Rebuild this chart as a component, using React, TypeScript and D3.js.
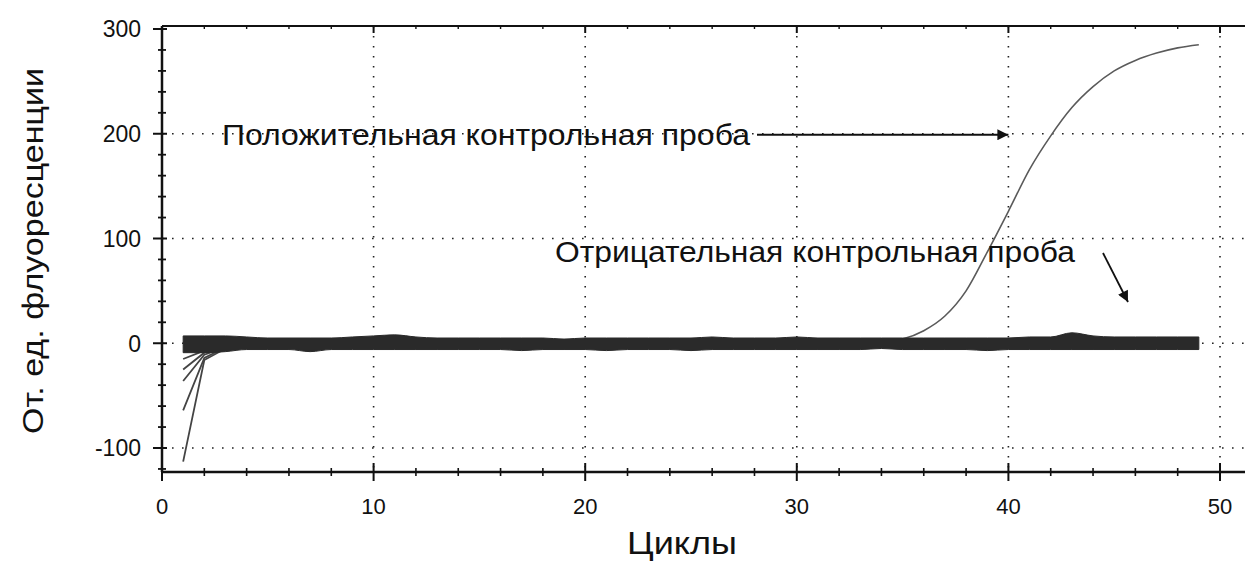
import React from "react";
import * as d3 from "d3";

const cycles = [1,2,3,4,5,6,7,8,9,10,11,12,13,14,15,16,17,18,19,20,21,22,23,24,25,26,27,28,29,30,31,32,33,34,35,36,37,38,39,40,41,42,43,44,45,46,47,48,49];

// positive control
const positive = [1,1,1,1,1,1,1,1,1,1,1,1,1,1,1,1,1,1,1,1,1,1,1,1,1,1,1,1,1,1,1,1,1,1,4,12,26,50,87,126,166,198,225,245,260,270,277,282,285];

// thick band formed by the many negative / baseline curves
const bandHigh = [7,7,7,6,5,5,5,5,6,7,8,6,5,5,5,5,5,5,4,5,5,5,5,5,5,6,5,5,5,6,5,5,5,5,5,5,5,5,5,5,6,6,10,7,6,6,6,6,6];
const bandLow = [-9,-9,-8,-6,-6,-6,-8,-6,-6,-6,-6,-6,-6,-6,-6,-6,-7,-6,-6,-6,-7,-6,-6,-6,-7,-6,-6,-6,-6,-6,-6,-6,-6,-5,-6,-6,-6,-6,-7,-6,-6,-6,-6,-6,-6,-6,-6,-6,-6];

// early curves starting below zero (cycles 1..5)
const earlyCycles = [1,2,3,4,5];
const early1 = [-113,-16,-5,-1,0];
const early2 = [-64,-14,-4,-1,0];
const early3 = [-36,-11,-4,-1,0];
const early4 = [-25,-9,-3,0,0];
const early5 = [-15,-7,-3,0,0];
const earlySeries = [early1, early2, early3, early4, early5];

const xMajor = [0,10,20,30,40,50];
const xMinor = [2,4,6,8,12,14,16,18,22,24,26,28,32,34,36,38,42,44,46,48];
const yMajor = [300,200,100,0,-100];
const yMinor = [280,260,240,220,180,160,140,120,80,60,40,20,-20,-40,-60,-80,-120];
const yGrid = [200,100,0,-100];
const xGrid = [10,20,30,40,50];

const xTitle = "Циклы";
const yTitle = "От. ед. флуоресценции";
const posLabel = "Положительная контрольная проба";
const negLabel = "Отрицательная контрольная проба";

const W = 1245, H = 562;
const FONT = "'Liberation Sans', Arial, sans-serif";

export default function App() {
  const x = d3.scaleLinear().domain([0, 50]).range([162, 1220]);
  const y = d3.scaleLinear().domain([-100, 300]).range([448, 29]);
  const topY = 26;
  const botY = 472;
  const leftX = x(0);

  const line = d3.line<number>().x((_, i) => x(cycles[i])).y(d => y(d)).curve(d3.curveMonotoneX);
  const earlyLine = d3.line<number>().x((_, i) => x(earlyCycles[i])).y(d => y(d)).curve(d3.curveLinear);
  const band = d3.area<number>()
    .x((_, i) => x(cycles[i]))
    .y0((_, i) => y(bandLow[i]))
    .y1((d) => y(d))
    .curve(d3.curveMonotoneX);

  const dot = { stroke: "#222", strokeWidth: 1.6, strokeDasharray: "1.6 8.4", fill: "none" };

  return (
    <svg width={W} height={H} style={{ position: "absolute", left: 0, top: 0, background: "#fff" }} fontFamily={FONT}>
      <defs>
        <marker id="ah" viewBox="0 0 10 10" refX="10" refY="5" markerWidth="15" markerHeight="11" markerUnits="userSpaceOnUse" orient="auto">
          <path d="M0,0 L10,5 L0,10 Z" fill="#111" />
        </marker>
      </defs>
      {/* grid */}
      {yGrid.map(v => (
        <line key={"gy" + v} x1={leftX} x2={W} y1={y(v)} y2={y(v)} style={dot} />
      ))}
      {xGrid.map(v => (
        <line key={"gx" + v} x1={x(v)} x2={x(v)} y1={topY} y2={botY} style={dot} />
      ))}

      {/* positive control */}
      <path d={line(positive) || ""} fill="none" stroke="#5a5a5a" strokeWidth={1.6} />

      {/* early curves */}
      {earlySeries.map((s, i) => (
        <path key={"e" + i} d={earlyLine(s) || ""} fill="none" stroke="#444" strokeWidth={1.8} />
      ))}

      {/* band */}
      <path d={band(bandHigh) || ""} fill="#2a2a2a" stroke="#2a2a2a" strokeWidth={1} />

      {/* axes */}
      <line x1={leftX} x2={W} y1={topY} y2={topY} stroke="#111" strokeWidth={2} />
      <line x1={leftX} x2={W} y1={botY} y2={botY} stroke="#111" strokeWidth={2.5} />
      <line x1={leftX} x2={leftX} y1={topY} y2={botY} stroke="#111" strokeWidth={2.5} />

      {yMajor.map(v => (
        <line key={"ym" + v} x1={leftX - 9} x2={leftX + 5} y1={y(v)} y2={y(v)} stroke="#111" strokeWidth={2} />
      ))}
      {yMinor.map(v => (
        <line key={"yn" + v} x1={leftX - 4} x2={leftX + 4} y1={y(v)} y2={y(v)} stroke="#111" strokeWidth={1.8} />
      ))}
      {xMajor.map(v => (
        <line key={"xm" + v} x1={x(v)} x2={x(v)} y1={botY - 9} y2={botY + 9} stroke="#111" strokeWidth={2} />
      ))}
      {xMinor.map(v => (
        <line key={"xn" + v} x1={x(v)} x2={x(v)} y1={botY - 4} y2={botY + 4} stroke="#111" strokeWidth={1.6} />
      ))}
      {xMajor.map(v => (
        <line key={"xt" + v} x1={x(v)} x2={x(v)} y1={topY} y2={topY + 7} stroke="#111" strokeWidth={2} />
      ))}
      {xMinor.map(v => (
        <line key={"xtn" + v} x1={x(v)} x2={x(v)} y1={topY} y2={topY + 3} stroke="#111" strokeWidth={1.4} />
      ))}

      {/* tick labels */}
      {yMajor.map(v => (
        <text key={"yl" + v} x={leftX - 21} y={y(v)} dy="0.36em" textAnchor="end" fontSize={23} fill="#111">{v}</text>
      ))}
      {xMajor.map(v => (
        <text key={"xl" + v} x={x(v)} y={514} textAnchor="middle" fontSize={22} fill="#111">{v}</text>
      ))}

      {/* titles */}
      <text x={682} y={554} textAnchor="middle" fontSize={32} textLength={110} lengthAdjust="spacingAndGlyphs" fill="#111">{xTitle}</text>
      <text transform={`translate(43,251) rotate(-90)`} textAnchor="middle" fontSize={30} textLength={366} lengthAdjust="spacingAndGlyphs" fill="#111">{yTitle}</text>

      {/* annotations */}
      <text x={222} y={145} fontSize={29} textLength={528} lengthAdjust="spacingAndGlyphs" fill="#111">{posLabel}</text>
      <line x1={757} x2={x(40)} y1={y(200) + 1} y2={y(200) + 1} stroke="#111" strokeWidth={1.8} markerEnd="url(#ah)" />
      <text x={555} y={262} fontSize={29} textLength={520} lengthAdjust="spacingAndGlyphs" fill="#111">{negLabel}</text>
      <line x1={1103} y1={253} x2={1128} y2={302} stroke="#111" strokeWidth={1.8} markerEnd="url(#ah)" />
    </svg>
  );
}
